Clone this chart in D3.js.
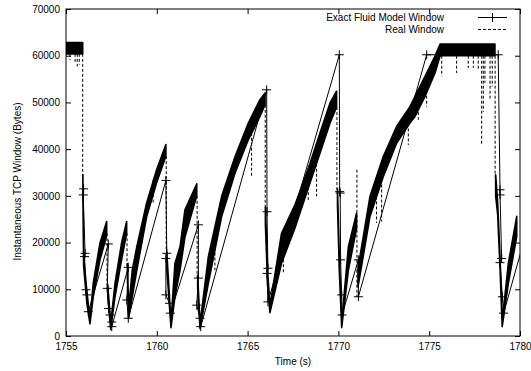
<!DOCTYPE html>
<html>
<head>
<meta charset="utf-8">
<script src="https://cdn.jsdelivr.net/npm/d3@7"></script>
<style>
  body { margin: 0; background: #fff; }
  svg text { font-family: "Liberation Sans", Arial, Helvetica, sans-serif; font-size: 10px; fill: #000; }
</style>
</head>
<body>
<svg id="chart" width="531" height="371"></svg>
<script>
// ticks
var xTicks = [1755, 1760, 1765, 1770, 1775, 1780];
var yTicks = [0, 10000, 20000, 30000, 40000, 50000, 60000, 70000];
var legendLabels = ["Exact Fluid Model Window", "Real Window"];

// exact fluid model window (time s, bytes)
var modelT = [1755.97, 1755.95, 1756.05, 1756.02, 1756.1, 1756.15, 1756.23,
    1757.33, 1757.27, 1757.35, 1757.42, 1757.52, 1757.52,
    1758.43, 1758.35, 1758.43,
    1760.5, 1760.55, 1760.5, 1760.5, 1760.7, 1760.75,
    1762.29, 1762.29, 1762.2, 1762.38, 1762.42,
    1766.05, 1766.07, 1766.12, 1766.07, 1766.12,
    1770.05, 1770.07, 1770.1, 1770.12, 1770.18, 1770.2,
    1771.1, 1771.1, 1774.86, 1778.8,
    1778.9, 1778.9, 1778.99, 1778.9, 1779.03, 1779.1, 1780.3];
var modelW = [31500, 30200, 17700, 17000, 9900, 8800, 5200,
    19700, 10200, 5900, 4500, 3000, 2000,
    14700, 7700, 3800,
    33300, 17700, 16600, 8800, 7000, 4900,
    23800, 12400, 6600, 3800, 2000,
    52700, 26600, 14500, 13400, 7300,
    60200, 30900, 30600, 16300, 8800, 4500,
    16300, 8400, 60200, 60200,
    31300, 30200, 16600, 15700, 8400, 4900, 21500];

// real window: growth phases between losses, upper / lower edge of the band
var rampT = [
    [1755.0, 1755.92],
    [1755.93, 1755.97, 1756.15, 1756.32, 1756.5, 1756.87, 1757.24],
    [1757.3, 1757.46, 1757.7, 1758.06, 1758.34],
    [1758.38, 1758.45, 1758.65, 1758.9, 1759.44, 1759.99, 1760.5],
    [1760.55, 1760.78, 1761.0, 1761.28, 1761.55, 1762.2],
    [1762.25, 1762.38, 1762.84, 1763.57, 1764.31, 1765.04, 1765.68, 1765.96],
    [1765.98, 1766.1, 1766.23, 1766.87, 1767.6, 1768.44, 1768.99, 1769.54, 1769.9],
    [1769.95, 1770.05, 1770.18, 1770.55, 1771.0],
    [1771.08, 1771.74, 1772.47, 1773.21, 1773.94, 1774.22, 1774.77, 1775.32, 1775.6, 1778.62],
    [1778.66, 1778.77, 1778.9, 1779.02, 1779.36, 1779.82]
];
var rampHi = [
    [62800, 62800],
    [34500, 17000, 9500, 3600, 11300, 19900, 24500],
    [11000, 2600, 11300, 19900, 24500],
    [15500, 6000, 14100, 19100, 28500, 35600, 41000],
    [18000, 2900, 15600, 19100, 27000, 32600],
    [13000, 2600, 17000, 29900, 38400, 45600, 50600, 52000],
    [27500, 14000, 6500, 22000, 28000, 37000, 43500, 49900, 52400],
    [31500, 17000, 2900, 19100, 26300],
    [14500, 29900, 38400, 44900, 49100, 51300, 55600, 59900, 62500, 62500],
    [34500, 28500, 17000, 3200, 15600, 25600]
];
var rampLo = [
    [60400, 60400],
    [30000, 15000, 7000, 2600, 8400, 16300, 21500],
    [8500, 1400, 8400, 16300, 22000],
    [12500, 3800, 8400, 14100, 25500, 32800, 38500],
    [14500, 1800, 8400, 14100, 21200, 30000],
    [10000, 1600, 11300, 25600, 34900, 42000, 47000, 49500],
    [24000, 11000, 5000, 15600, 23000, 32800, 39200, 45600, 49000],
    [28000, 14000, 1800, 14100, 23000],
    [10500, 25600, 34100, 41300, 45600, 47000, 51300, 56300, 60000, 60000],
    [30000, 26000, 14500, 2000, 11300, 21300]
];

// real window: sudden drops at losses
var dropT = [1755.92, 1757.26, 1758.36, 1760.52, 1762.22, 1765.97, 1769.92, 1771.02, 1778.63];
var dropFrom = [60400, 22000, 22000, 38500, 30000, 49500, 49000, 35600, 60000];
var dropTo = [34000, 11000, 15000, 18400, 12700, 27000, 31300, 8400, 34100];

// real window: short dips
var dipT = [1755.22, 1755.5, 1755.62, 1755.73, 1759.8, 1763.2, 1765.22, 1766.97, 1768.34, 1768.8,
    1772.1, 1772.38, 1773.85, 1774.4, 1774.86, 1775.69, 1776.51, 1777.15, 1777.43, 1777.7,
    1777.89, 1777.98, 1778.07, 1778.35, 1778.47];
var dipFrom = [60400, 60400, 60400, 60400, 33500, 20000, 43500, 17500, 34000, 39000,
    32000, 33500, 45500, 49000, 52500, 60000, 60000, 60000, 60000, 60000,
    60000, 60000, 60000, 60000, 60000];
var dipTo = [59100, 58400, 57700, 58100, 28500, 14100, 34100, 13500, 29100, 29900,
    24200, 24500, 40900, 46300, 49100, 55600, 56300, 57400, 57400, 57000,
    40900, 48000, 54200, 50600, 53400];

var svg = d3.select('#chart');
var margin = {top: 9, right: 11, bottom: 35, left: 66};
var width = +svg.attr('width') - margin.left - margin.right;
var height = +svg.attr('height') - margin.top - margin.bottom;

var x = d3.scaleLinear().domain([1755, 1780]).range([0, width]);
var y = d3.scaleLinear().domain([0, 70000]).range([height, 0]);

var g = svg.append('g').attr('transform', 'translate(' + margin.left + ',' + margin.top + ')');

g.append('clipPath').attr('id', 'clip')
  .append('rect').attr('width', width).attr('height', height);

// axes, ticks pointing inwards as in gnuplot
function styleAxis(sel) {
    sel.selectAll('text')
      .attr('font-family', '"Liberation Sans", Arial, Helvetica, sans-serif')
      .attr('font-size', 10);
    sel.selectAll('line').attr('stroke', '#000');
    sel.select('.domain').remove();
}

g.append('g')
  .attr('transform', 'translate(0,' + height + ')')
  .call(d3.axisBottom(x).tickValues(xTicks).tickFormat(d3.format('d')).tickSizeInner(-5).tickSizeOuter(0).tickPadding(7))
  .call(styleAxis);
g.append('g')
  .call(d3.axisTop(x).tickValues(xTicks).tickFormat('').tickSizeInner(-5).tickSizeOuter(0))
  .call(styleAxis);
g.append('g')
  .call(d3.axisLeft(y).tickValues(yTicks).tickFormat(d3.format('d')).tickSizeInner(-5).tickSizeOuter(0).tickPadding(6))
  .call(styleAxis);
g.append('g')
  .attr('transform', 'translate(' + width + ',0)')
  .call(d3.axisRight(y).tickValues(yTicks).tickFormat('').tickSizeInner(-5).tickSizeOuter(0))
  .call(styleAxis);

var plot = g.append('g').attr('clip-path', 'url(#clip)');

// real window band
var band = d3.area()
    .x(function(d) { return x(d[0]); })
    .y0(function(d) { return y(d[2]); })
    .y1(function(d) { return y(d[1]); });

rampT.forEach(function(ts, i) {
    var pts = ts.map(function(t, j) { return [t, rampHi[i][j], rampLo[i][j]]; });
    plot.append('path')
      .attr('d', band(pts))
      .attr('fill', '#000')
      .attr('stroke', '#000')
      .attr('stroke-width', 1.6)
      .attr('stroke-linejoin', 'round');
});

plot.selectAll('.drop')
  .data(dropT)
  .enter().append('line')
    .attr('class', 'drop')
    .attr('x1', function(d) { return x(d); })
    .attr('x2', function(d) { return x(d); })
    .attr('y1', function(d, i) { return y(dropFrom[i]); })
    .attr('y2', function(d, i) { return y(dropTo[i]); })
    .attr('stroke', '#000')
    .attr('stroke-width', 1)
    .attr('stroke-dasharray', '3,2');

plot.selectAll('.dip')
  .data(dipT)
  .enter().append('line')
    .attr('class', 'dip')
    .attr('x1', function(d) { return x(d); })
    .attr('x2', function(d) { return x(d); })
    .attr('y1', function(d, i) { return y(dipFrom[i]); })
    .attr('y2', function(d, i) { return y(dipTo[i]); })
    .attr('stroke', '#000')
    .attr('stroke-width', 1)
    .attr('stroke-dasharray', '3,2');

// model window
var model = modelT.map(function(t, i) { return [t, modelW[i]]; });
var line = d3.line()
    .x(function(d) { return x(d[0]); })
    .y(function(d) { return y(d[1]); });

plot.append('path')
  .attr('d', line(model))
  .attr('fill', 'none')
  .attr('stroke', '#000')
  .attr('stroke-width', 1);

var plus = 'M-4.5,0H4.5M0,-4.5V4.5';
plot.selectAll('.pt')
  .data(model)
  .enter().append('path')
    .attr('class', 'pt')
    .attr('transform', function(d) { return 'translate(' + x(d[0]) + ',' + y(d[1]) + ')'; })
    .attr('d', plus)
    .attr('stroke', '#000')
    .attr('stroke-width', 1);

// frame
g.append('rect')
  .attr('width', width)
  .attr('height', height)
  .attr('fill', 'none')
  .attr('stroke', '#000')
  .attr('stroke-width', 1);

// axis titles
g.append('text')
  .attr('x', width / 2)
  .attr('y', height + 28.5)
  .attr('text-anchor', 'middle')
  .text('Time (s)');

svg.append('text')
  .attr('transform', 'translate(21,' + (margin.top + height / 2 + 9) + ') rotate(-90)')
  .attr('text-anchor', 'middle')
  .text('Instantaneous TCP Window (Bytes)');

// legend
var legend = svg.append('g');
legendLabels.forEach(function(label, i) {
    var ly = 17.5 + i * 12;
    legend.append('text')
      .attr('x', 444)
      .attr('y', ly + 3.3)
      .attr('text-anchor', 'end')
      .text(label);
    legend.append('line')
      .attr('x1', 478).attr('x2', 507)
      .attr('y1', ly).attr('y2', ly)
      .attr('stroke', '#000')
      .attr('stroke-width', 1)
      .attr('stroke-dasharray', i === 1 ? '3,2' : null);
    if (i === 0) {
        legend.append('path')
          .attr('transform', 'translate(492.5,' + ly + ')')
          .attr('d', plus)
          .attr('stroke', '#000');
    }
});
</script>
</body>
</html>
